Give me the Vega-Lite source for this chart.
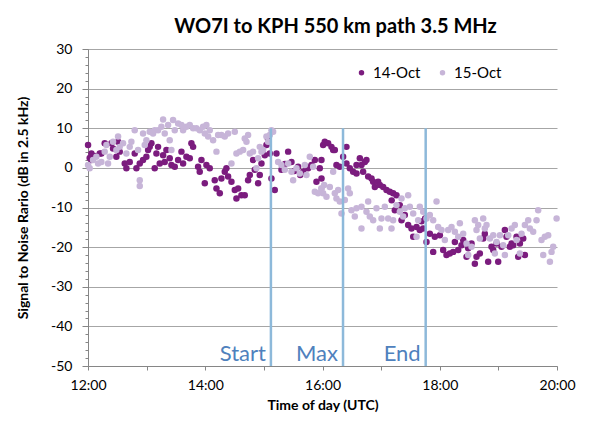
{
"$schema": "https://vega.github.io/schema/vega-lite/v6.json",
"width": 469, "height": 317,
"autosize": {"type": "none"},
"padding": {"left": 88, "top": 49, "right": 46, "bottom": 56},
"background": "white",
"config": {"font": "Lato", "view": {"stroke": null}},
"title": {"text": "WO7I to KPH 550 km path 3.5 MHz", "fontSize": 20, "fontWeight": "bold", "font": "Lato", "color": "#000000", "anchor": "middle", "dx": 13, "offset": 5},
"resolve": {"axis": {"y": "independent"}},
"datasets": {
"snr": [
{"d":"14-Oct","t":12.001,"v":5.8},{"d":"14-Oct","t":12.029,"v":2.5},{"d":"14-Oct","t":12.058,"v":3.6},{"d":"14-Oct","t":12.058,"v":2.0},{"d":"14-Oct","t":12.115,"v":3.0},{"d":"14-Oct","t":12.2,"v":3.6},{"d":"14-Oct","t":12.228,"v":3.6},{"d":"14-Oct","t":12.285,"v":6.2},{"d":"14-Oct","t":12.399,"v":6.2},{"d":"14-Oct","t":12.427,"v":4.9},{"d":"14-Oct","t":12.484,"v":2.8},{"d":"14-Oct","t":12.513,"v":6.6},{"d":"14-Oct","t":12.541,"v":4.1},{"d":"14-Oct","t":12.627,"v":1.1},{"d":"14-Oct","t":12.655,"v":-0.1},{"d":"14-Oct","t":12.712,"v":1.5},{"d":"14-Oct","t":12.797,"v":3.6},{"d":"14-Oct","t":12.826,"v":-0.1},{"d":"14-Oct","t":12.883,"v":1.1},{"d":"14-Oct","t":12.939,"v":2.0},{"d":"14-Oct","t":12.996,"v":2.8},{"d":"14-Oct","t":13.025,"v":4.5},{"d":"14-Oct","t":13.053,"v":5.3},{"d":"14-Oct","t":13.082,"v":6.2},{"d":"14-Oct","t":13.138,"v":-0.1},{"d":"14-Oct","t":13.167,"v":3.6},{"d":"14-Oct","t":13.195,"v":5.3},{"d":"14-Oct","t":13.224,"v":1.1},{"d":"14-Oct","t":13.281,"v":3.2},{"d":"14-Oct","t":13.309,"v":1.5},{"d":"14-Oct","t":13.338,"v":4.5},{"d":"14-Oct","t":13.394,"v":2.4},{"d":"14-Oct","t":13.423,"v":0.7},{"d":"14-Oct","t":13.48,"v":0.3},{"d":"14-Oct","t":13.537,"v":2.0},{"d":"14-Oct","t":13.594,"v":4.1},{"d":"14-Oct","t":13.622,"v":1.1},{"d":"14-Oct","t":13.679,"v":2.8},{"d":"14-Oct","t":13.736,"v":2.4},{"d":"14-Oct","t":13.764,"v":6.2},{"d":"14-Oct","t":13.793,"v":5.3},{"d":"14-Oct","t":13.878,"v":0.3},{"d":"14-Oct","t":13.906,"v":-1.0},{"d":"14-Oct","t":13.935,"v":2.0},{"d":"14-Oct","t":13.992,"v":-3.9},{"d":"14-Oct","t":14.02,"v":0.7},{"d":"14-Oct","t":14.077,"v":-0.1},{"d":"14-Oct","t":14.162,"v":-3.1},{"d":"14-Oct","t":14.191,"v":-5.2},{"d":"14-Oct","t":14.248,"v":-6.4},{"d":"14-Oct","t":14.276,"v":-2.7},{"d":"14-Oct","t":14.333,"v":-1.0},{"d":"14-Oct","t":14.361,"v":-0.1},{"d":"14-Oct","t":14.39,"v":-2.2},{"d":"14-Oct","t":14.447,"v":-3.5},{"d":"14-Oct","t":14.504,"v":-5.6},{"d":"14-Oct","t":14.532,"v":-7.7},{"d":"14-Oct","t":14.561,"v":-5.2},{"d":"14-Oct","t":14.617,"v":-6.9},{"d":"14-Oct","t":14.674,"v":-6.9},{"d":"14-Oct","t":14.731,"v":-3.1},{"d":"14-Oct","t":14.76,"v":-1.8},{"d":"14-Oct","t":14.816,"v":2.0},{"d":"14-Oct","t":14.845,"v":-0.5},{"d":"14-Oct","t":14.902,"v":-3.9},{"d":"14-Oct","t":14.93,"v":-1.8},{"d":"14-Oct","t":14.959,"v":1.1},{"d":"14-Oct","t":15.016,"v":3.2},{"d":"14-Oct","t":15.044,"v":5.8},{"d":"14-Oct","t":15.072,"v":7.2},{"d":"14-Oct","t":15.101,"v":3.6},{"d":"14-Oct","t":15.129,"v":-2.7},{"d":"14-Oct","t":15.186,"v":-5.6},{"d":"14-Oct","t":15.215,"v":3.6},{"d":"14-Oct","t":15.3,"v":-0.5},{"d":"14-Oct","t":15.36,"v":1.0},{"d":"14-Oct","t":15.414,"v":4.1},{"d":"14-Oct","t":15.471,"v":1.5},{"d":"14-Oct","t":15.52,"v":-0.8},{"d":"14-Oct","t":15.584,"v":0.3},{"d":"14-Oct","t":15.62,"v":-1.8},{"d":"14-Oct","t":15.67,"v":-1.0},{"d":"14-Oct","t":15.72,"v":0.3},{"d":"14-Oct","t":15.755,"v":-0.1},{"d":"14-Oct","t":15.812,"v":0.7},{"d":"14-Oct","t":15.869,"v":2.0},{"d":"14-Oct","t":15.897,"v":-3.5},{"d":"14-Oct","t":15.954,"v":-0.1},{"d":"14-Oct","t":15.983,"v":-2.7},{"d":"14-Oct","t":16.011,"v":5.8},
{"d":"14-Oct","t":15.982,"v":2.0},{"d":"14-Oct","t":16.039,"v":6.6},{"d":"14-Oct","t":16.096,"v":6.2},{"d":"14-Oct","t":16.153,"v":5.3},{"d":"14-Oct","t":16.182,"v":4.5},{"d":"14-Oct","t":16.21,"v":4.5},{"d":"14-Oct","t":16.238,"v":0.7},{"d":"14-Oct","t":16.295,"v":0.3},{"d":"14-Oct","t":16.352,"v":2.8},{"d":"14-Oct","t":16.409,"v":5.3},{"d":"14-Oct","t":16.409,"v":1.1},{"d":"14-Oct","t":16.466,"v":-0.1},{"d":"14-Oct","t":16.523,"v":-1.0},{"d":"14-Oct","t":16.58,"v":-1.4},{"d":"14-Oct","t":16.58,"v":0.7},{"d":"14-Oct","t":16.637,"v":2.4},{"d":"14-Oct","t":16.665,"v":0.7},{"d":"14-Oct","t":16.693,"v":-1.0},{"d":"14-Oct","t":16.722,"v":1.5},{"d":"14-Oct","t":16.75,"v":2.0},{"d":"14-Oct","t":16.779,"v":-2.2},{"d":"14-Oct","t":16.836,"v":-2.7},{"d":"14-Oct","t":16.864,"v":-3.5},{"d":"14-Oct","t":16.893,"v":-4.8},{"d":"14-Oct","t":16.949,"v":-3.5},{"d":"14-Oct","t":16.978,"v":-4.3},{"d":"14-Oct","t":17.035,"v":-4.8},{"d":"14-Oct","t":17.092,"v":-5.6},{"d":"14-Oct","t":17.148,"v":-6.0},{"d":"14-Oct","t":17.18,"v":-8.2},{"d":"14-Oct","t":17.205,"v":-6.4},{"d":"14-Oct","t":17.262,"v":-6.9},{"d":"14-Oct","t":17.234,"v":-10.7},{"d":"14-Oct","t":17.319,"v":-9.4},{"d":"14-Oct","t":17.348,"v":-13.2},{"d":"14-Oct","t":17.404,"v":-11.9},{"d":"14-Oct","t":17.461,"v":-14.4},{"d":"14-Oct","t":17.518,"v":-15.3},{"d":"14-Oct","t":17.547,"v":-17.4},{"d":"14-Oct","t":17.604,"v":-14.9},{"d":"14-Oct","t":17.66,"v":-15.7},{"d":"14-Oct","t":17.69,"v":-13.5},{"d":"14-Oct","t":17.717,"v":-15.3},{"d":"14-Oct","t":17.75,"v":-12.8},{"d":"14-Oct","t":17.774,"v":-18.7},{"d":"14-Oct","t":17.831,"v":-16.6},{"d":"14-Oct","t":17.888,"v":-21.2},{"d":"14-Oct","t":17.916,"v":-17.4},{"d":"14-Oct","t":18.002,"v":-17.0},{"d":"14-Oct","t":18.058,"v":-20.7},{"d":"14-Oct","t":18.115,"v":-22.0},{"d":"14-Oct","t":18.172,"v":-21.6},{"d":"14-Oct","t":18.229,"v":-21.2},{"d":"14-Oct","t":18.258,"v":-18.7},{"d":"14-Oct","t":18.315,"v":-20.7},{"d":"14-Oct","t":18.371,"v":-19.5},{"d":"14-Oct","t":18.4,"v":-18.2},{"d":"14-Oct","t":18.457,"v":-22.4},{"d":"14-Oct","t":18.485,"v":-20.3},{"d":"14-Oct","t":18.542,"v":-19.1},{"d":"14-Oct","t":18.599,"v":-24.2},{"d":"14-Oct","t":18.627,"v":-22.4},{"d":"14-Oct","t":18.684,"v":-21.6},{"d":"14-Oct","t":18.741,"v":-17.8},{"d":"14-Oct","t":18.769,"v":-16.6},{"d":"14-Oct","t":18.826,"v":-23.7},{"d":"14-Oct","t":18.883,"v":-19.9},{"d":"14-Oct","t":18.912,"v":-20.7},{"d":"14-Oct","t":18.969,"v":-19.1},{"d":"14-Oct","t":18.997,"v":-23.7},{"d":"14-Oct","t":19.054,"v":-19.9},{"d":"14-Oct","t":19.111,"v":-15.7},{"d":"14-Oct","t":19.139,"v":-17.4},{"d":"14-Oct","t":19.196,"v":-19.9},{"d":"14-Oct","t":19.225,"v":-19.1},{"d":"14-Oct","t":19.253,"v":-19.5},{"d":"14-Oct","t":19.31,"v":-17.4},{"d":"14-Oct","t":19.338,"v":-22.4},{"d":"14-Oct","t":19.367,"v":-19.1},{"d":"14-Oct","t":19.424,"v":-17.8},{"d":"14-Oct","t":19.452,"v":-22.0},
{"d":"15-Oct","t":12.001,"v":0.7},{"d":"15-Oct","t":12.029,"v":-0.1},{"d":"15-Oct","t":12.086,"v":2.0},{"d":"15-Oct","t":12.143,"v":2.8},{"d":"15-Oct","t":12.172,"v":1.1},{"d":"15-Oct","t":12.228,"v":1.5},{"d":"15-Oct","t":12.285,"v":4.1},{"d":"15-Oct","t":12.314,"v":5.8},{"d":"15-Oct","t":12.342,"v":1.1},{"d":"15-Oct","t":12.371,"v":2.8},{"d":"15-Oct","t":12.427,"v":6.6},{"d":"15-Oct","t":12.484,"v":4.5},{"d":"15-Oct","t":12.513,"v":7.9},{"d":"15-Oct","t":12.541,"v":5.3},{"d":"15-Oct","t":12.598,"v":6.2},{"d":"15-Oct","t":12.655,"v":3.6},{"d":"15-Oct","t":12.712,"v":5.3},{"d":"15-Oct","t":12.74,"v":6.6},{"d":"15-Oct","t":12.797,"v":9.5},{"d":"15-Oct","t":12.854,"v":4.5},{"d":"15-Oct","t":12.883,"v":-3.1},{"d":"15-Oct","t":12.883,"v":-4.6},{"d":"15-Oct","t":12.939,"v":8.7},{"d":"15-Oct","t":12.968,"v":5.8},{"d":"15-Oct","t":12.996,"v":7.0},{"d":"15-Oct","t":13.053,"v":9.1},{"d":"15-Oct","t":13.11,"v":8.7},{"d":"15-Oct","t":13.138,"v":9.5},{"d":"15-Oct","t":13.195,"v":9.5},{"d":"15-Oct","t":13.252,"v":10.4},{"d":"15-Oct","t":13.281,"v":12.2},{"d":"15-Oct","t":13.309,"v":8.7},{"d":"15-Oct","t":13.366,"v":10.8},{"d":"15-Oct","t":13.394,"v":7.0},{"d":"15-Oct","t":13.423,"v":4.5},{"d":"15-Oct","t":13.451,"v":12.1},{"d":"15-Oct","t":13.48,"v":9.5},{"d":"15-Oct","t":13.537,"v":11.2},{"d":"15-Oct","t":13.594,"v":10.8},{"d":"15-Oct","t":13.622,"v":9.5},{"d":"15-Oct","t":13.679,"v":10.4},{"d":"15-Oct","t":13.736,"v":10.8},{"d":"15-Oct","t":13.793,"v":10.0},{"d":"15-Oct","t":13.849,"v":10.0},{"d":"15-Oct","t":13.906,"v":9.5},{"d":"15-Oct","t":13.963,"v":10.4},{"d":"15-Oct","t":13.992,"v":8.7},{"d":"15-Oct","t":14.02,"v":10.8},{"d":"15-Oct","t":14.049,"v":7.9},{"d":"15-Oct","t":14.077,"v":9.5},{"d":"15-Oct","t":14.134,"v":7.0},{"d":"15-Oct","t":14.191,"v":4.1},{"d":"15-Oct","t":14.219,"v":8.3},{"d":"15-Oct","t":14.276,"v":8.3},{"d":"15-Oct","t":14.333,"v":7.9},{"d":"15-Oct","t":14.39,"v":8.7},{"d":"15-Oct","t":14.447,"v":1.1},{"d":"15-Oct","t":14.504,"v":9.1},{"d":"15-Oct","t":14.532,"v":3.6},{"d":"15-Oct","t":14.589,"v":4.1},{"d":"15-Oct","t":14.646,"v":4.5},{"d":"15-Oct","t":14.674,"v":7.4},{"d":"15-Oct","t":14.703,"v":6.6},{"d":"15-Oct","t":14.731,"v":8.3},{"d":"15-Oct","t":14.76,"v":3.6},{"d":"15-Oct","t":14.816,"v":4.1},{"d":"15-Oct","t":14.873,"v":-0.1},{"d":"15-Oct","t":14.902,"v":2.4},{"d":"15-Oct","t":14.93,"v":5.3},{"d":"15-Oct","t":14.959,"v":4.1},{"d":"15-Oct","t":14.987,"v":4.5},{"d":"15-Oct","t":15.044,"v":7.9},{"d":"15-Oct","t":15.072,"v":6.6},{"d":"15-Oct","t":15.101,"v":8.3},{"d":"15-Oct","t":15.129,"v":9.5},{"d":"15-Oct","t":15.158,"v":9.1},{"d":"15-Oct","t":15.243,"v":1.5},{"d":"15-Oct","t":15.3,"v":0.7},{"d":"15-Oct","t":15.357,"v":-0.5},{"d":"15-Oct","t":15.414,"v":1.1},{"d":"15-Oct","t":15.471,"v":-1.0},{"d":"15-Oct","t":15.499,"v":-3.1},{"d":"15-Oct","t":15.556,"v":-0.1},{"d":"15-Oct","t":15.613,"v":-1.4},{"d":"15-Oct","t":15.698,"v":0.7},{"d":"15-Oct","t":15.726,"v":-1.8},{"d":"15-Oct","t":15.783,"v":2.8},{"d":"15-Oct","t":15.84,"v":0.3},{"d":"15-Oct","t":15.869,"v":-6.0},{"d":"15-Oct","t":15.925,"v":-6.4},{"d":"15-Oct","t":15.983,"v":-5.2},{"d":"15-Oct","t":16.028,"v":-4.3},
{"d":"15-Oct","t":15.982,"v":-5.2},{"d":"15-Oct","t":16.011,"v":-6.4},{"d":"15-Oct","t":16.068,"v":-7.3},{"d":"15-Oct","t":16.125,"v":-4.8},{"d":"15-Oct","t":16.182,"v":-1.0},{"d":"15-Oct","t":16.21,"v":-6.4},{"d":"15-Oct","t":16.238,"v":-7.7},{"d":"15-Oct","t":16.267,"v":-5.6},{"d":"15-Oct","t":16.295,"v":-8.5},{"d":"15-Oct","t":16.324,"v":-11.5},{"d":"15-Oct","t":16.381,"v":-8.1},{"d":"15-Oct","t":16.437,"v":-5.2},{"d":"15-Oct","t":16.466,"v":-6.4},{"d":"15-Oct","t":16.494,"v":-10.7},{"d":"15-Oct","t":16.551,"v":-12.3},{"d":"15-Oct","t":16.58,"v":-10.2},{"d":"15-Oct","t":16.665,"v":-15.3},{"d":"15-Oct","t":16.665,"v":-9.8},{"d":"15-Oct","t":16.75,"v":-11.1},{"d":"15-Oct","t":16.779,"v":-8.5},{"d":"15-Oct","t":16.807,"v":-12.3},{"d":"15-Oct","t":16.864,"v":-13.2},{"d":"15-Oct","t":16.921,"v":-10.2},{"d":"15-Oct","t":16.978,"v":-15.3},{"d":"15-Oct","t":17.006,"v":-12.8},{"d":"15-Oct","t":17.063,"v":-9.8},{"d":"15-Oct","t":17.12,"v":-12.8},{"d":"15-Oct","t":17.177,"v":-15.3},{"d":"15-Oct","t":17.205,"v":-13.2},{"d":"15-Oct","t":17.262,"v":-9.4},{"d":"15-Oct","t":17.319,"v":-11.1},{"d":"15-Oct","t":17.348,"v":-7.7},{"d":"15-Oct","t":17.376,"v":-12.3},{"d":"15-Oct","t":17.404,"v":-10.2},{"d":"15-Oct","t":17.461,"v":-6.9},{"d":"15-Oct","t":17.49,"v":-9.8},{"d":"15-Oct","t":17.547,"v":-11.5},{"d":"15-Oct","t":17.604,"v":-17.4},{"d":"15-Oct","t":17.632,"v":-13.2},{"d":"15-Oct","t":17.66,"v":-9.8},{"d":"15-Oct","t":17.717,"v":-11.1},{"d":"15-Oct","t":17.774,"v":-12.8},{"d":"15-Oct","t":17.831,"v":-11.9},{"d":"15-Oct","t":17.888,"v":-13.2},{"d":"15-Oct","t":17.945,"v":-8.5},{"d":"15-Oct","t":17.973,"v":-14.9},{"d":"15-Oct","t":18.03,"v":-15.7},{"d":"15-Oct","t":18.087,"v":-18.2},{"d":"15-Oct","t":18.144,"v":-15.7},{"d":"15-Oct","t":18.201,"v":-14.9},{"d":"15-Oct","t":18.258,"v":-16.1},{"d":"15-Oct","t":18.315,"v":-17.4},{"d":"15-Oct","t":18.343,"v":-14.0},{"d":"15-Oct","t":18.4,"v":-16.6},{"d":"15-Oct","t":18.457,"v":-19.1},{"d":"15-Oct","t":18.485,"v":-22.0},{"d":"15-Oct","t":18.542,"v":-19.9},{"d":"15-Oct","t":18.599,"v":-13.2},{"d":"15-Oct","t":18.627,"v":-15.7},{"d":"15-Oct","t":18.656,"v":-14.4},{"d":"15-Oct","t":18.684,"v":-17.8},{"d":"15-Oct","t":18.741,"v":-12.8},{"d":"15-Oct","t":18.769,"v":-15.3},{"d":"15-Oct","t":18.798,"v":-14.4},{"d":"15-Oct","t":18.855,"v":-17.8},{"d":"15-Oct","t":18.912,"v":-17.0},{"d":"15-Oct","t":18.94,"v":-21.6},{"d":"15-Oct","t":18.969,"v":-18.7},{"d":"15-Oct","t":19.026,"v":-17.0},{"d":"15-Oct","t":19.082,"v":-19.5},{"d":"15-Oct","t":19.111,"v":-22.0},{"d":"15-Oct","t":19.168,"v":-17.0},{"d":"15-Oct","t":19.225,"v":-15.3},{"d":"15-Oct","t":19.281,"v":-14.4},{"d":"15-Oct","t":19.31,"v":-18.2},{"d":"15-Oct","t":19.367,"v":-21.6},{"d":"15-Oct","t":19.395,"v":-16.6},{"d":"15-Oct","t":19.452,"v":-14.4},{"d":"15-Oct","t":19.509,"v":-13.2},{"d":"15-Oct","t":19.537,"v":-15.3},{"d":"15-Oct","t":19.594,"v":-16.1},{"d":"15-Oct","t":19.651,"v":-13.2},{"d":"15-Oct","t":19.679,"v":-10.7},{"d":"15-Oct","t":19.736,"v":-18.2},{"d":"15-Oct","t":19.765,"v":-22.0},{"d":"15-Oct","t":19.793,"v":-17.4},{"d":"15-Oct","t":19.85,"v":-17.0},{"d":"15-Oct","t":19.879,"v":-23.7},{"d":"15-Oct","t":19.907,"v":-21.2},{"d":"15-Oct","t":19.935,"v":-19.9},{"d":"15-Oct","t":19.993,"v":-12.8}
],
"events": [
{"label":"Start","t":15.12},{"label":"Max","t":16.35},{"label":"End","t":17.76}
]
},
"layer": [
{"data": {"name": "snr"},
 "mark": {"type": "circle", "size": 42, "opacity": 1},
 "encoding": {
  "x": {"field": "t", "type": "quantitative",
        "scale": {"domain": [12, 20], "nice": false, "zero": false},
        "axis": {"values": [12,12.5,13,13.5,14,14.5,15,15.5,16,16.5,17,17.5,18,18.5,19,19.5,20],
                 "labelExpr": "datum.value % 2 === 0 ? datum.value + ':00' : ''",
                 "grid": false, "tickSize": 4, "domainColor": "#868686", "tickColor": "#868686",
                 "labelFontSize": 14, "labelColor": "#000000", "labelPadding": 8, "labelOverlap": false, "labelFlush": false,
                 "title": "Time of day (UTC)", "titleFontSize": 14, "titleFontWeight": "bold", "titleColor": "#000000", "titlePadding": 6}},
  "y": {"field": "v", "type": "quantitative",
        "scale": {"domain": [-50, 30], "nice": false, "zero": false},
        "axis": {"orient": "left", "values": [-50,-40,-30,-20,-10,0,10,20,30],
                 "labelExpr": "'' + datum.value",
                 "grid": true, "gridColor": "#A6A6A6", "gridWidth": 1,
                 "tickSize": 6, "domainColor": "#868686", "tickColor": "#868686",
                 "labelFontSize": 14, "labelColor": "#000000", "labelPadding": 10, "labelFlush": false,
                 "title": "Signal to Noise Rario (dB in 2.5 kHz)", "titleFontSize": 14, "titleFontWeight": "bold", "titleColor": "#000000", "titlePadding": 20}},
  "color": {"field": "d", "type": "nominal",
            "scale": {"domain": ["14-Oct", "15-Oct"], "range": ["#7B1C7E", "#C7B5D8"]},
            "legend": {"orient": "none", "legendX": 266, "legendY": 16, "direction": "horizontal", "title": null,
                       "symbolType": "circle", "symbolSize": 30, "labelFontSize": 15, "labelColor": "#000000", "columnPadding": 14, "symbolOpacity": 1}}
 }},
{"data": {"name": "events"},
 "mark": {"type": "rule", "color": "#8DB9DA", "strokeWidth": 2.5},
 "encoding": {"x": {"field": "t", "type": "quantitative"},
              "y": {"datum": 10, "type": "quantitative",
                    "axis": {"orient": "left", "values": [-50,-48,-46,-44,-42,-40,-38,-36,-34,-32,-30,-28,-26,-24,-22,-20,-18,-16,-14,-12,-10,-8,-6,-4,-2,0,2,4,6,8,10,12,14,16,18,20,22,24,26,28,30],
                             "labels": false, "grid": false, "domain": false, "tickSize": 3, "tickColor": "#868686", "title": null}},
              "y2": {"datum": -50}}},
{"data": {"name": "events"},
 "mark": {"type": "text", "align": "right", "baseline": "alphabetic", "dx": -5, "fontSize": 22, "color": "#4F81BD", "font": "Lato"},
 "encoding": {"x": {"field": "t", "type": "quantitative"}, "y": {"datum": -48.7, "type": "quantitative", "axis": null}, "text": {"field": "label"}}}
]
}
